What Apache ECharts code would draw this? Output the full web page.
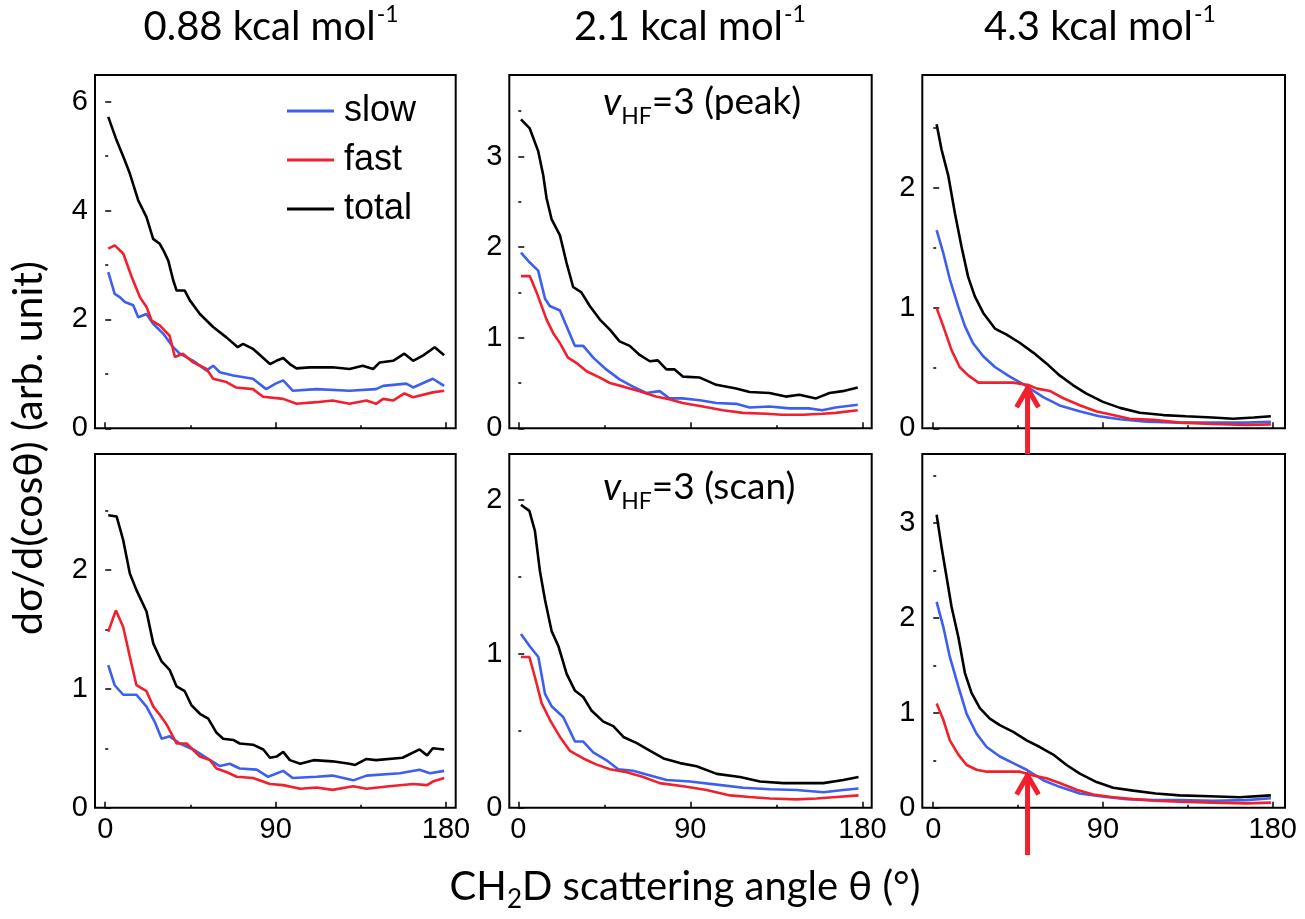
<!DOCTYPE html>
<html><head><meta charset="utf-8">
<script src="https://cdn.jsdelivr.net/npm/echarts@6/dist/echarts.min.js"></script>
<style>html,body{margin:0;padding:0;background:#fff}#c{width:1305px;height:919px}</style>
</head><body><div id="c"></div>
<script>
// ---------- data ----------
const seriesNames = ['slow', 'fast', 'total'];
const panelTitles = ['0.88 kcal mol', '2.1 kcal mol', '4.3 kcal mol'];
const titleSup = '-1';
const xTickValues = [0, 90, 180];
const xMinorValues = [45, 135];
const yMajorTicks = [[0, 2, 4, 6], [0, 1, 2, 3], [0, 1, 2], [0, 1, 2], [0, 1, 2], [0, 1, 2, 3]];
const yMinorTicks = [[1, 3, 5], [0.5, 1.5, 2.5, 3.5], [0.5, 1.5, 2.5], [0.5, 1.5, 2.5], [0.5, 1.5], [0.5, 1.5, 2.5, 3.5]];
const yMaxValues = [6.49, 3.9, 2.94, 2.975, 2.30, 3.73];
const xRanges = [[-5.4, 185.1], [-4.7, 184.9], [-5.8, 186.5]];
const annotations = ['(peak)', '(scan)'];
const arrowAngle = 50;
const arrowTip = [0.35, 0.36];
const arrowTail = [-0.215, -0.5];

// panel 1: 0.88 kcal/mol, peak
const p1Slow = [[1.6,2.87],[5,2.47],[7.7,2.41],[10.4,2.32],[14.8,2.26],[17.4,2.04],[21.8,2.10],[25.3,1.92],[30.6,1.74],[35.9,1.49],[39.4,1.37],[46.5,1.24],[53.5,1.06],[57,1.15],[60.5,1.03],[67.6,0.97],[78,0.91],[85,0.72],[90,0.82],[94,0.88],[99,0.69],[111.6,0.72],[129,0.69],[143,0.72],[146.8,0.78],[159,0.82],[162.6,0.75],[173,0.91],[179,0.78]];
const p1Fast = [[1.6,3.30],[5,3.36],[9.5,3.21],[14,2.78],[18.3,2.41],[21.8,2.23],[24.5,1.98],[28.8,1.89],[34,1.70],[36.8,1.31],[41,1.37],[46.5,1.21],[53.5,1.09],[57,0.91],[64,0.85],[69,0.75],[78,0.72],[83.4,0.58],[94,0.54],[101,0.45],[111.6,0.48],[120,0.51],[129,0.45],[138,0.51],[143,0.45],[146.8,0.54],[152,0.51],[158,0.64],[162.6,0.57],[173,0.66],[179,0.69]];
const p1Total = [[1.6,5.72],[6,5.29],[10,4.95],[13,4.68],[17.4,4.19],[21.8,3.88],[25.3,3.48],[28.8,3.39],[31,3.25],[33.3,3.08],[35.9,2.72],[37.7,2.53],[42,2.53],[44.7,2.35],[50,2.1],[57,1.86],[64,1.67],[70,1.49],[72.8,1.55],[78,1.46],[87,1.18],[90.4,1.24],[94,1.29],[97.5,1.18],[101,1.10],[108,1.12],[120,1.12],[129,1.09],[136,1.15],[141.5,1.09],[145,1.21],[152,1.24],[158,1.37],[162.6,1.24],[168,1.34],[174,1.49],[179,1.34]];

// panel 2: 2.1 kcal/mol, peak
const p2Slow = [[1.4,1.94],[6,1.83],[10.4,1.74],[14,1.43],[16.5,1.35],[21.8,1.30],[25.2,1.13],[29.6,0.91],[34,0.91],[39.2,0.78],[46,0.65],[53,0.54],[60,0.46],[67,0.39],[74,0.41],[79,0.33],[86,0.33],[95,0.31],[103.6,0.28],[114,0.27],[121,0.23],[131.4,0.24],[142,0.22],[152,0.22],[159,0.20],[166,0.23],[177.6,0.26]];
const p2Fast = [[1.4,1.68],[6,1.68],[9.6,1.50],[14.8,1.20],[18.3,1.05],[21.8,0.94],[26,0.78],[30.5,0.72],[35.7,0.63],[42.7,0.56],[47.9,0.50],[55,0.46],[63.5,0.41],[72,0.35],[79,0.32],[86,0.28],[96.5,0.24],[107,0.20],[117.5,0.17],[130,0.16],[138,0.15],[149,0.15],[159,0.16],[166,0.17],[177.6,0.20]];
const p2Total = [[1.4,3.41],[6,3.31],[10.4,3.06],[13,2.80],[14.8,2.54],[17.4,2.31],[21.8,2.13],[25.2,1.83],[28.7,1.56],[33,1.50],[37.4,1.35],[42.7,1.20],[47.9,1.09],[53,0.96],[58.3,0.91],[63.5,0.81],[68.8,0.74],[73,0.75],[77.5,0.65],[81.8,0.65],[86.2,0.57],[95,0.56],[103.6,0.48],[114,0.44],[121,0.40],[131.4,0.39],[140,0.35],[147,0.37],[155.8,0.33],[162.8,0.39],[169.7,0.41],[177.6,0.45]];

// panel 3: 4.3 kcal/mol, peak
const p3Slow = [[1.8,1.65],[5.3,1.46],[8.8,1.24],[13.3,1.01],[16.8,0.85],[21,0.71],[26.5,0.60],[32.7,0.51],[40.6,0.43],[49.5,0.35],[58.3,0.26],[67,0.19],[78,0.14],[88,0.10],[99,0.075],[113,0.055],[131,0.047],[148,0.047],[166,0.047],[179,0.055]];
const p3Fast = [[1.8,1.0],[5.3,0.85],[9.7,0.65],[14,0.51],[18.5,0.44],[24,0.38],[32,0.38],[42.4,0.38],[50.4,0.36],[55,0.33],[62,0.31],[69,0.25],[78,0.19],[86.6,0.14],[95.4,0.11],[104,0.08],[116.6,0.07],[131,0.047],[148,0.036],[166,0.028],[179,0.033]];
const p3Total = [[1.8,2.53],[4.4,2.32],[8,2.10],[11.5,1.79],[15,1.51],[18.5,1.26],[22,1.10],[26.5,0.96],[32.7,0.83],[38.9,0.78],[46,0.71],[53,0.63],[60,0.54],[67,0.44],[74,0.36],[81,0.29],[90,0.22],[99,0.17],[109.5,0.13],[122,0.11],[134,0.10],[148,0.09],[159,0.08],[170,0.09],[179,0.10]];

// panel 4: 0.88 kcal/mol, scan
const p4Slow = [[1.6,1.20],[5,1.03],[9.5,0.95],[16.5,0.95],[21.8,0.85],[26.2,0.72],[29.8,0.58],[34,0.60],[39.4,0.54],[46.5,0.49],[53.5,0.42],[60.5,0.35],[65.8,0.37],[71,0.33],[80,0.32],[86,0.26],[94,0.31],[99,0.25],[111.6,0.26],[120,0.27],[131,0.23],[138,0.27],[155.6,0.29],[166,0.32],[171.5,0.29],[179,0.31]];
const p4Fast = [[1.6,1.48],[5.6,1.66],[9.5,1.52],[13,1.27],[16.5,1.03],[21.8,0.98],[25.4,0.85],[28.9,0.78],[32.4,0.70],[37.7,0.54],[43,0.54],[50,0.43],[55.3,0.40],[58.8,0.33],[64,0.30],[69.4,0.26],[78,0.25],[87,0.20],[94,0.19],[103,0.16],[111.6,0.17],[120,0.15],[131,0.18],[138,0.16],[150,0.18],[162.6,0.20],[170,0.19],[173,0.22],[179,0.25]];
const p4Total = [[1.6,2.46],[6,2.45],[9.5,2.25],[13,1.97],[16.5,1.83],[21.8,1.65],[25.4,1.38],[29.8,1.23],[34,1.16],[37.7,1.02],[42,0.98],[45.6,0.86],[50,0.79],[54.4,0.75],[58.8,0.63],[62.3,0.58],[67.6,0.57],[71,0.54],[78,0.53],[83.5,0.49],[87,0.42],[90.5,0.43],[94,0.47],[97.5,0.40],[103,0.37],[110,0.40],[120,0.39],[129,0.37],[132,0.36],[138,0.41],[143,0.40],[157,0.42],[166,0.49],[170,0.44],[173,0.50],[179,0.49]];

// panel 5: 2.1 kcal/mol, scan
const p5Slow = [[1.4,1.13],[6,1.05],[10.5,0.98],[14,0.74],[17.4,0.66],[23.5,0.59],[29.7,0.43],[34,0.43],[39.2,0.36],[46,0.31],[52.3,0.25],[60,0.24],[69,0.21],[77.6,0.18],[89.8,0.17],[103.8,0.15],[117.7,0.13],[131.7,0.12],[145.6,0.115],[159.6,0.10],[170,0.115],[178,0.125]];
const p5Fast = [[1.4,0.98],[5.8,0.98],[8.7,0.85],[12.2,0.68],[16.6,0.57],[21.8,0.46],[27,0.37],[34,0.32],[41,0.28],[48,0.25],[56.7,0.23],[65.4,0.20],[74,0.16],[86.3,0.14],[98.5,0.115],[110.8,0.08],[121,0.07],[131.7,0.06],[145.6,0.054],[156,0.06],[166.6,0.07],[178,0.08]];
const p5Total = [[1.4,1.97],[5.8,1.93],[8.7,1.80],[11.3,1.54],[14,1.35],[17.4,1.15],[21,1.05],[25.3,0.87],[29.7,0.76],[34,0.72],[38.4,0.63],[44.5,0.56],[49.7,0.53],[55,0.46],[62,0.42],[69,0.37],[76,0.32],[84.6,0.29],[93.3,0.27],[103.8,0.22],[116,0.20],[126.5,0.17],[138.7,0.16],[149,0.16],[159.6,0.16],[170,0.18],[178,0.20]];

// panel 6: 4.3 kcal/mol, scan
const p6Slow = [[1.8,2.17],[5.3,1.91],[8.8,1.59],[13.3,1.28],[17.7,0.99],[23,0.78],[28.3,0.64],[35.3,0.54],[42.4,0.47],[49.5,0.40],[58.3,0.29],[67,0.22],[77.7,0.15],[88.3,0.12],[102.5,0.09],[116.6,0.08],[130.7,0.08],[148.4,0.074],[166,0.08],[179,0.10]];
const p6Fast = [[1.8,1.10],[5.3,0.93],[8.8,0.71],[13.3,0.56],[17.7,0.45],[23,0.40],[28.3,0.38],[35.3,0.38],[46,0.38],[53,0.34],[60,0.31],[67,0.26],[76,0.19],[84.8,0.14],[95.4,0.11],[106,0.09],[118,0.074],[130.7,0.063],[148.4,0.053],[166,0.046],[179,0.053]];
const p6Total = [[1.8,3.09],[4.4,2.75],[7,2.44],[9.7,2.12],[13.3,1.80],[16.8,1.42],[20.3,1.21],[24.7,1.05],[30,0.94],[35.3,0.87],[42.4,0.80],[49.5,0.71],[56.5,0.64],[63.6,0.56],[70.7,0.45],[77.7,0.36],[86.6,0.27],[95.4,0.21],[106,0.18],[118,0.15],[130.7,0.13],[146.6,0.12],[162.5,0.11],[179,0.13]];

const panelData = [
  [p1Slow, p1Fast, p1Total],
  [p2Slow, p2Fast, p2Total],
  [p3Slow, p3Fast, p3Total],
  [p4Slow, p4Fast, p4Total],
  [p5Slow, p5Fast, p5Total],
  [p6Slow, p6Fast, p6Total]
];

// ---------- layout / style ----------
const COLORS = ['#3d5ff0', '#f2202c', '#000000'];
const colBoxes = [{ left: 95, width: 360.7 }, { left: 509.3, width: 362.4 }, { left: 922.3, width: 362.7 }];
const rowBoxes = [{ top: 75, height: 353.3 }, { top: 454, height: 353.7 }];
const SANS = '"Liberation Sans", Arial, sans-serif';
const HUM = 'Lato, "Open Sans", sans-serif';

const chart = echarts.init(document.getElementById('c'), null, { renderer: 'canvas' });

const grids = [], xAxes = [], yAxes = [], series = [];
for (let i = 0; i < 6; i++) {
  const r = Math.floor(i / 3), c = i % 3;
  grids.push({
    left: colBoxes[c].left, width: colBoxes[c].width,
    top: rowBoxes[r].top, height: rowBoxes[r].height,
    show: true, borderColor: '#000', borderWidth: 2, backgroundColor: 'transparent',
    containLabel: false, outerBoundsMode: 'none'
  });
  const xBase = {
    type: 'value', gridIndex: i, min: xRanges[c][0], max: xRanges[c][1], position: 'bottom',
    axisLine: { show: false }, splitLine: { show: false }
  };
  xAxes.push(Object.assign({}, xBase, {
    axisTick: { show: true, inside: true, length: 6, customValues: xTickValues, lineStyle: { color: '#000', width: 1.5 } },
    axisLabel: { show: r === 1, customValues: xTickValues, margin: 8, color: '#000', fontSize: 29, fontFamily: SANS }
  }));
  xAxes.push(Object.assign({}, xBase, {
    axisTick: { show: true, inside: true, length: 3, customValues: xMinorValues, lineStyle: { color: '#000', width: 1.5 } },
    axisLabel: { show: false }
  }));
  const yBase = {
    type: 'value', gridIndex: i, min: 0, max: yMaxValues[i], position: 'left',
    axisLine: { show: false }, splitLine: { show: false }
  };
  yAxes.push(Object.assign({}, yBase, {
    axisTick: { show: true, inside: true, length: 6, customValues: yMajorTicks[i], lineStyle: { color: '#000', width: 1.5 } },
    axisLabel: { show: true, customValues: yMajorTicks[i], margin: 7, color: '#000', fontSize: 29, fontFamily: SANS }
  }));
  yAxes.push(Object.assign({}, yBase, {
    axisTick: { show: true, inside: true, length: 3, customValues: yMinorTicks[i], lineStyle: { color: '#000', width: 1.5 } },
    axisLabel: { show: false }
  }));
  panelData[i].forEach((d, k) => {
    series.push({
      name: seriesNames[k], type: 'line', xAxisIndex: 2 * i, yAxisIndex: 2 * i,
      data: d, symbol: 'none', smooth: false, silent: true,
      lineStyle: { color: COLORS[k], width: 2.6 },
      itemStyle: { color: COLORS[k] }
    });
  });
}

const graphics = [];
const titleX = [271, 690, 1100];
panelTitles.forEach((t, c) => {
  graphics.push({
    type: 'text', x: titleX[c], y: 24,
    style: {
      text: '{a|' + t + '}{s|' + titleSup + '}', align: 'center', verticalAlign: 'middle',
      rich: {
        a: { fontSize: 40, fontFamily: HUM, fill: '#000', lineHeight: 46, verticalAlign: 'bottom' },
        s: { fontSize: 23, fontFamily: HUM, fill: '#000', lineHeight: 46, verticalAlign: 'top', padding: [2, 0, 0, 1] }
      }
    }
  });
});
// y axis title
graphics.push({
  type: 'text', x: 29, y: 448, rotation: Math.PI / 2,
  style: { text: 'dσ/d(cosθ) (arb. unit)', align: 'center', verticalAlign: 'middle', fontSize: 41, fontFamily: HUM, fill: '#000' }
});
// x axis title
graphics.push({
  type: 'text', x: 685, y: 890,
  style: {
    text: '{a|CH}{b|2}{a|D scattering angle θ (°)}', align: 'center', verticalAlign: 'middle',
    rich: {
      a: { fontSize: 40, fontFamily: HUM, fill: '#000', lineHeight: 46, verticalAlign: 'top' },
      b: { fontSize: 26, fontFamily: HUM, fill: '#000', lineHeight: 26, verticalAlign: 'bottom' }
    }
  }
});
// annotations
const annY = [106, 491];
annotations.forEach((t, r) => {
  graphics.push({
    type: 'text', x: 603, y: annY[r],
    style: {
      text: '{v|v}{s|HF}{a|=3 ' + t + '}', align: 'left', verticalAlign: 'middle',
      rich: {
        v: { fontSize: 38, fontFamily: HUM, fontStyle: 'italic', fill: '#000', lineHeight: 44, verticalAlign: 'top' },
        s: { fontSize: 23, fontFamily: HUM, fill: '#000', lineHeight: 23, verticalAlign: 'bottom' },
        a: { fontSize: 37, fontFamily: HUM, fill: '#000', lineHeight: 44, verticalAlign: 'top' }
      }
    }
  });
});

chart.setOption({
  animation: false,
  backgroundColor: '#fff',
  grid: grids, xAxis: xAxes, yAxis: yAxes, series: series,
  legend: {
    data: seriesNames, orient: 'vertical', left: 282, top: 88,
    icon: 'rect', itemWidth: 47, itemHeight: 3, itemGap: 13,
    selectedMode: false,
    textStyle: { fontSize: 36, fontFamily: SANS, color: '#000', lineHeight: 36, padding: [0, 0, 0, 5] }
  },
  graphic: graphics
});

// arrows in the 4.3 kcal/mol panels (grid 2 and 5)
const arrowGraphics = [];
[2, 5].forEach((g, k) => {
  const tip = chart.convertToPixel({ xAxisIndex: 2 * g, yAxisIndex: 2 * g }, [arrowAngle, arrowTip[k]]);
  const tail = chart.convertToPixel({ xAxisIndex: 2 * g, yAxisIndex: 2 * g }, [arrowAngle, arrowTail[k]]);
  arrowGraphics.push({
    type: 'line', z: 100,
    shape: { x1: tail[0], y1: tail[1], x2: tip[0], y2: tip[1] + 3 },
    style: { stroke: '#f2202c', lineWidth: 5 }
  });
  arrowGraphics.push({
    type: 'polyline', z: 100,
    shape: { points: [[tip[0] - 11, tip[1] + 21], [tip[0], tip[1] + 2], [tip[0] + 11, tip[1] + 21]] },
    style: { stroke: '#f2202c', lineWidth: 5, fill: null, lineJoin: 'miter' }
  });
});
chart.setOption({ graphic: graphics.concat(arrowGraphics) });
</script>
</body></html>
